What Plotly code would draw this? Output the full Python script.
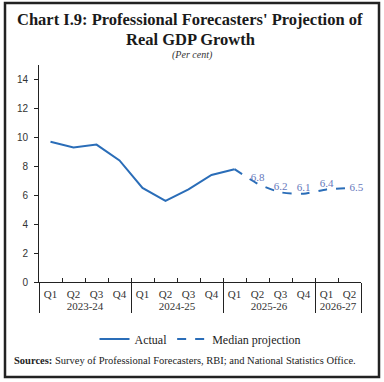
import plotly.graph_objects as go

quarters = ["Q1", "Q2", "Q3", "Q4", "Q1", "Q2", "Q3", "Q4", "Q1", "Q2", "Q3", "Q4", "Q1", "Q2"]
years = ["2023-24"] * 4 + ["2024-25"] * 4 + ["2025-26"] * 4 + ["2026-27"] * 2
actual = [9.7, 9.3, 9.5, 8.4, 6.5, 5.6, 6.4, 7.4, 7.8]
projection = [7.8, 6.8, 6.2, 6.1, 6.4, 6.5]
proj_labels = ["", "6.8", "6.2", "6.1", "6.4", "6.5"]
proj_label_pos = ["top center", "top center", "top center", "top center", "top center", "middle right"]

LINE = "#2a6db8"
LABEL = "#6677bb"
SERIF = "Liberation Serif"

W, H = 384, 382
L, R, T, B = 39, 23, 65, 100
pw, ph = W - L - R, H - T - B

def px(x):
    return (x - L) / pw

def py(y):
    return (H - B - y) / ph

n_act = len(actual)
ncat = len(quarters)
fig = go.Figure()
fig.add_trace(go.Scatter(
    x=[years[:n_act], quarters[:n_act]], y=actual, mode="lines", name="Actual",
    line=dict(color=LINE, width=2), hoverinfo="skip"))
start = n_act - 1
fig.add_trace(go.Scatter(
    x=[years[start:], quarters[start:]], y=projection, mode="lines+text",
    name="Median projection", text=proj_labels, textposition=proj_label_pos,
    textfont=dict(family=SERIF, size=11, color=LABEL),
    line=dict(color=LINE, width=2, dash="dash", shape="spline", smoothing=0.6),
    hoverinfo="skip", cliponaxis=False))
# helper trace on overlay axis for boundary ticks
fig.add_trace(go.Scatter(x=[-0.5, ncat - 0.5], y=[None, None], xaxis="x2",
                         showlegend=False, hoverinfo="skip"))

fig.update_layout(
    width=W, height=H, margin=dict(l=L, r=R, t=T, b=B),
    paper_bgcolor="white", plot_bgcolor="white",
    showlegend=True,
    legend=dict(orientation="h", x=0.5, xanchor="center", y=py(339), yanchor="middle",
                font=dict(family=SERIF, size=12, color="#222"),
                tracegroupgap=0),
    xaxis=dict(type="multicategory", range=[-0.5, ncat - 0.5], showline=True,
               linecolor="#222", linewidth=1,
               ticks="inside", ticklen=4, tickcolor="#222", tickangle=0,
               showdividers=True, dividercolor="#222", dividerwidth=1,
               tickfont=dict(family=SERIF, size=11, color="#333"),
               ticklabelstandoff=2,
               showgrid=False, zeroline=False),
    xaxis2=dict(overlaying="x", range=[-0.5, ncat - 0.5], showline=False,
                ticks="inside", ticklen=4, tickcolor="#222", tickmode="linear",
                tick0=-0.5, dtick=1, showticklabels=False, showgrid=False,
                zeroline=False, anchor="y", side="bottom"),
    yaxis=dict(range=[0, 15], tickvals=[0, 2, 4, 6, 8, 10, 12, 14], showline=True,
               linecolor="#222", linewidth=1, ticks="outside", ticklen=4,
               tickcolor="#222", showgrid=False, zeroline=False,
               ticklabelstandoff=4,
               tickfont=dict(family="Liberation Sans", size=10, color="#333")),
    shapes=[dict(type="rect", xref="paper", yref="paper",
                 x0=px(5), x1=px(379), y0=py(377), y1=py(3),
                 line=dict(color="#222", width=2.5), fillcolor="rgba(0,0,0,0)")],
    annotations=[
        dict(text="<b>Chart I.9: Professional Forecasters' Projection of</b>",
             xref="paper", yref="paper", x=px(190), y=py(19), xanchor="center",
             yanchor="middle", showarrow=False,
             font=dict(family=SERIF, size=16.5, color="#1a1a1a")),
        dict(text="<b>Real GDP Growth</b>",
             xref="paper", yref="paper", x=px(190), y=py(39), xanchor="center",
             yanchor="middle", showarrow=False,
             font=dict(family=SERIF, size=16.5, color="#1a1a1a")),
        dict(text="<i>(Per cent)</i>",
             xref="paper", yref="paper", x=px(192), y=py(55), xanchor="center",
             yanchor="middle", showarrow=False,
             font=dict(family=SERIF, size=10, color="#333")),
        dict(text="<b>Sources:</b> Survey of Professional Forecasters, RBI; and National Statistics Office.",
             xref="paper", yref="paper", x=px(12), y=py(361), xanchor="left",
             yanchor="middle", showarrow=False,
             font=dict(family=SERIF, size=10.5, color="#222")),
    ],
)

fig.write_html("out.html", config={"displayModeBar": False},
               post_script="document.body.style.margin='0';")
